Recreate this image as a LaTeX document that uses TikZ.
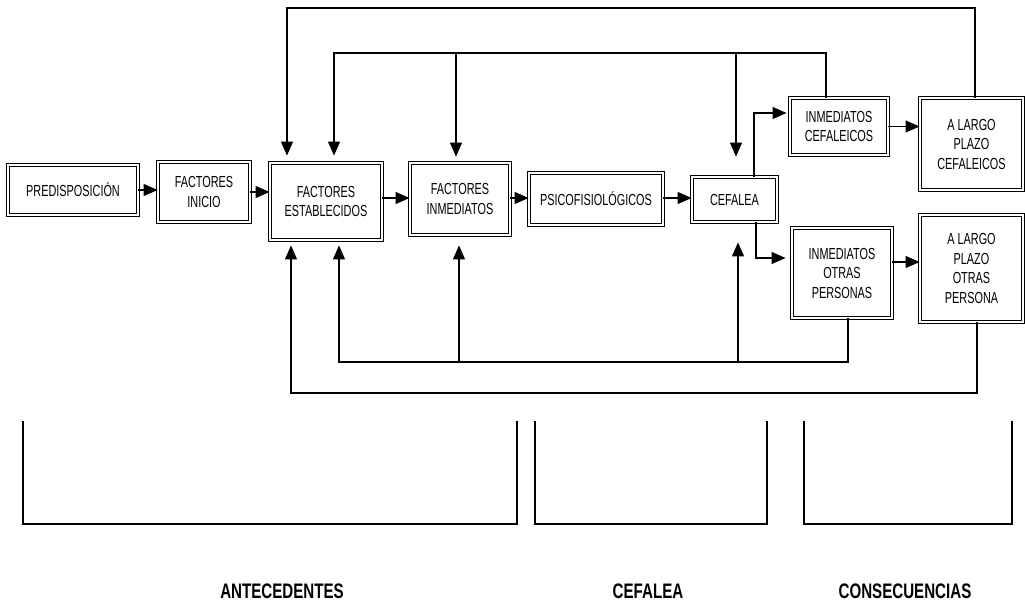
\documentclass[tikz,border=0pt]{standalone}
\usepackage{fontspec}
\setmainfont{Liberation Sans}
\newfontfamily\boxfont[FakeStretch=0.68]{Liberation Sans}
\newfontfamily\labfont[FakeStretch=0.72]{Liberation Sans}
\usetikzlibrary{arrows.meta}
\tikzset{
  box/.style={draw, line width=0.9pt, double, double distance=1.5pt, inner sep=2pt,
    align=center, font=\boxfont\fontsize{16}{19.5}\selectfont},
  arr/.style={line width=1.1pt, -{Triangle[length=14pt,width=12pt]}},
  bracket/.style={line width=1.5pt},
  lab/.style={font=\labfont\bfseries\fontsize{21}{24}\selectfont}
}
\begin{document}
\begin{tikzpicture}[x=1pt,y=-1pt]
\useasboundingbox (0,0) rectangle (1025,604);
% boxes
\node[box, minimum width=130pt, minimum height=50pt] (pred) at (73,190) {PREDISPOSICIÓN};
\node[box, minimum width=92pt, minimum height=60pt] (inicio) at (204,192) {FACTORES\\INICIO};
\node[box, minimum width=112pt, minimum height=77pt] (estab) at (326,201.5) {FACTORES\\ESTABLECIDOS};
\node[box, minimum width=100pt, minimum height=72pt] (inmed) at (460,199) {FACTORES\\INMEDIATOS};
\node[box, minimum width=134pt, minimum height=52pt] (psico) at (596,199) {PSICOFISIOLÓGICOS};
\node[box, minimum width=85pt, minimum height=45pt] (cef) at (734.5,199.5) {CEFALEA};
\node[box, minimum width=98pt, minimum height=57pt] (ic) at (839,126.5) {INMEDIATOS\\CEFALEICOS};
\node[box, minimum width=103pt, minimum height=92pt] (alpc) at (971.5,144) {A LARGO\\PLAZO\\CEFALEICOS};
\node[box, minimum width=100pt, minimum height=90pt] (iop) at (842,273) {INMEDIATOS\\OTRAS\\PERSONAS};
\node[box, minimum width=103pt, minimum height=107pt] (alpo) at (971.5,268.5) {A LARGO\\PLAZO\\OTRAS\\PERSONA};
% helper coordinates
\coordinate (mid) at (0,198);
\coordinate (k1) at (754,113);
\coordinate (k2) at (756,258);
\coordinate (k3) at (0,262);
\coordinate (T1) at (975,8);
\coordinate (T2) at (287,8);
\coordinate (U1) at (826,53);
\coordinate (U2) at (334,53);
\coordinate (U3) at (456,53);
\coordinate (U4) at (736,53);
\coordinate (B1) at (848,362);
\coordinate (B2) at (339,362);
\coordinate (B3) at (459,362);
\coordinate (B4) at (738,362);
\coordinate (C1) at (977,393);
\coordinate (C2) at (291,393);
% main flow
\draw[arr] (pred.east) -- (inicio.west |- pred.east);
\draw[arr] (inicio.east) -- (estab.west |- inicio.east);
\draw[arr] (estab.east |- mid) -- (inmed.west |- mid);
\draw[arr] (inmed.east |- mid) -- (psico.west |- mid);
\draw[arr] (psico.east |- mid) -- (cef.west |- mid);
\draw[arr, shorten >=3pt] (cef.north -| k1) -- (k1) -- (ic.west |- k1);
\draw[arr, shorten >=6pt] (cef.south -| k2) -- (k2) -- (iop.west |- k2);
\draw[arr] (ic.east) -- (alpc.west |- ic.east);
\draw[arr] (iop.east |- k3) -- (alpo.west |- k3);
% top feedback
\draw[arr, shorten >=7pt] (alpc.north -| T1) -- (T1) -- (T2) -- (estab.north -| T2);
\draw[arr, shorten >=7pt] (ic.north -| U1) -- (U1) -- (U2) -- (estab.north -| U2);
\draw[arr, shorten >=6pt] (U3) -- (inmed.north -| U3);
\draw[arr, shorten >=20pt] (U4) -- (cef.north -| U4);
% bottom feedback
\draw[arr, shorten >=5pt] (iop.south -| B1) -- (B1) -- (B2) -- (estab.south -| B2);
\draw[arr, shorten >=10pt] (B3) -- (inmed.south -| B3);
\draw[arr, shorten >=20pt] (B4) -- (cef.south -| B4);
\draw[arr, shorten >=5pt] (alpo.south -| C1) -- (C1) -- (C2) -- (estab.south -| C2);
% brackets
\draw[bracket] (23,421) -- (23,524) -- (517,524) -- (517,421);
\draw[bracket] (535,421) -- (535,524) -- (767,524) -- (767,421);
\draw[bracket] (804,421) -- (804,524) -- (1012,524) -- (1012,421);
% labels
\node[lab] (l1) at (282,591) {ANTECEDENTES};
\node[lab] (l2) at (648,591) {CEFALEA};
\node[lab] (l3) at (905,591) {CONSECUENCIAS};
\end{tikzpicture}
\end{document}
